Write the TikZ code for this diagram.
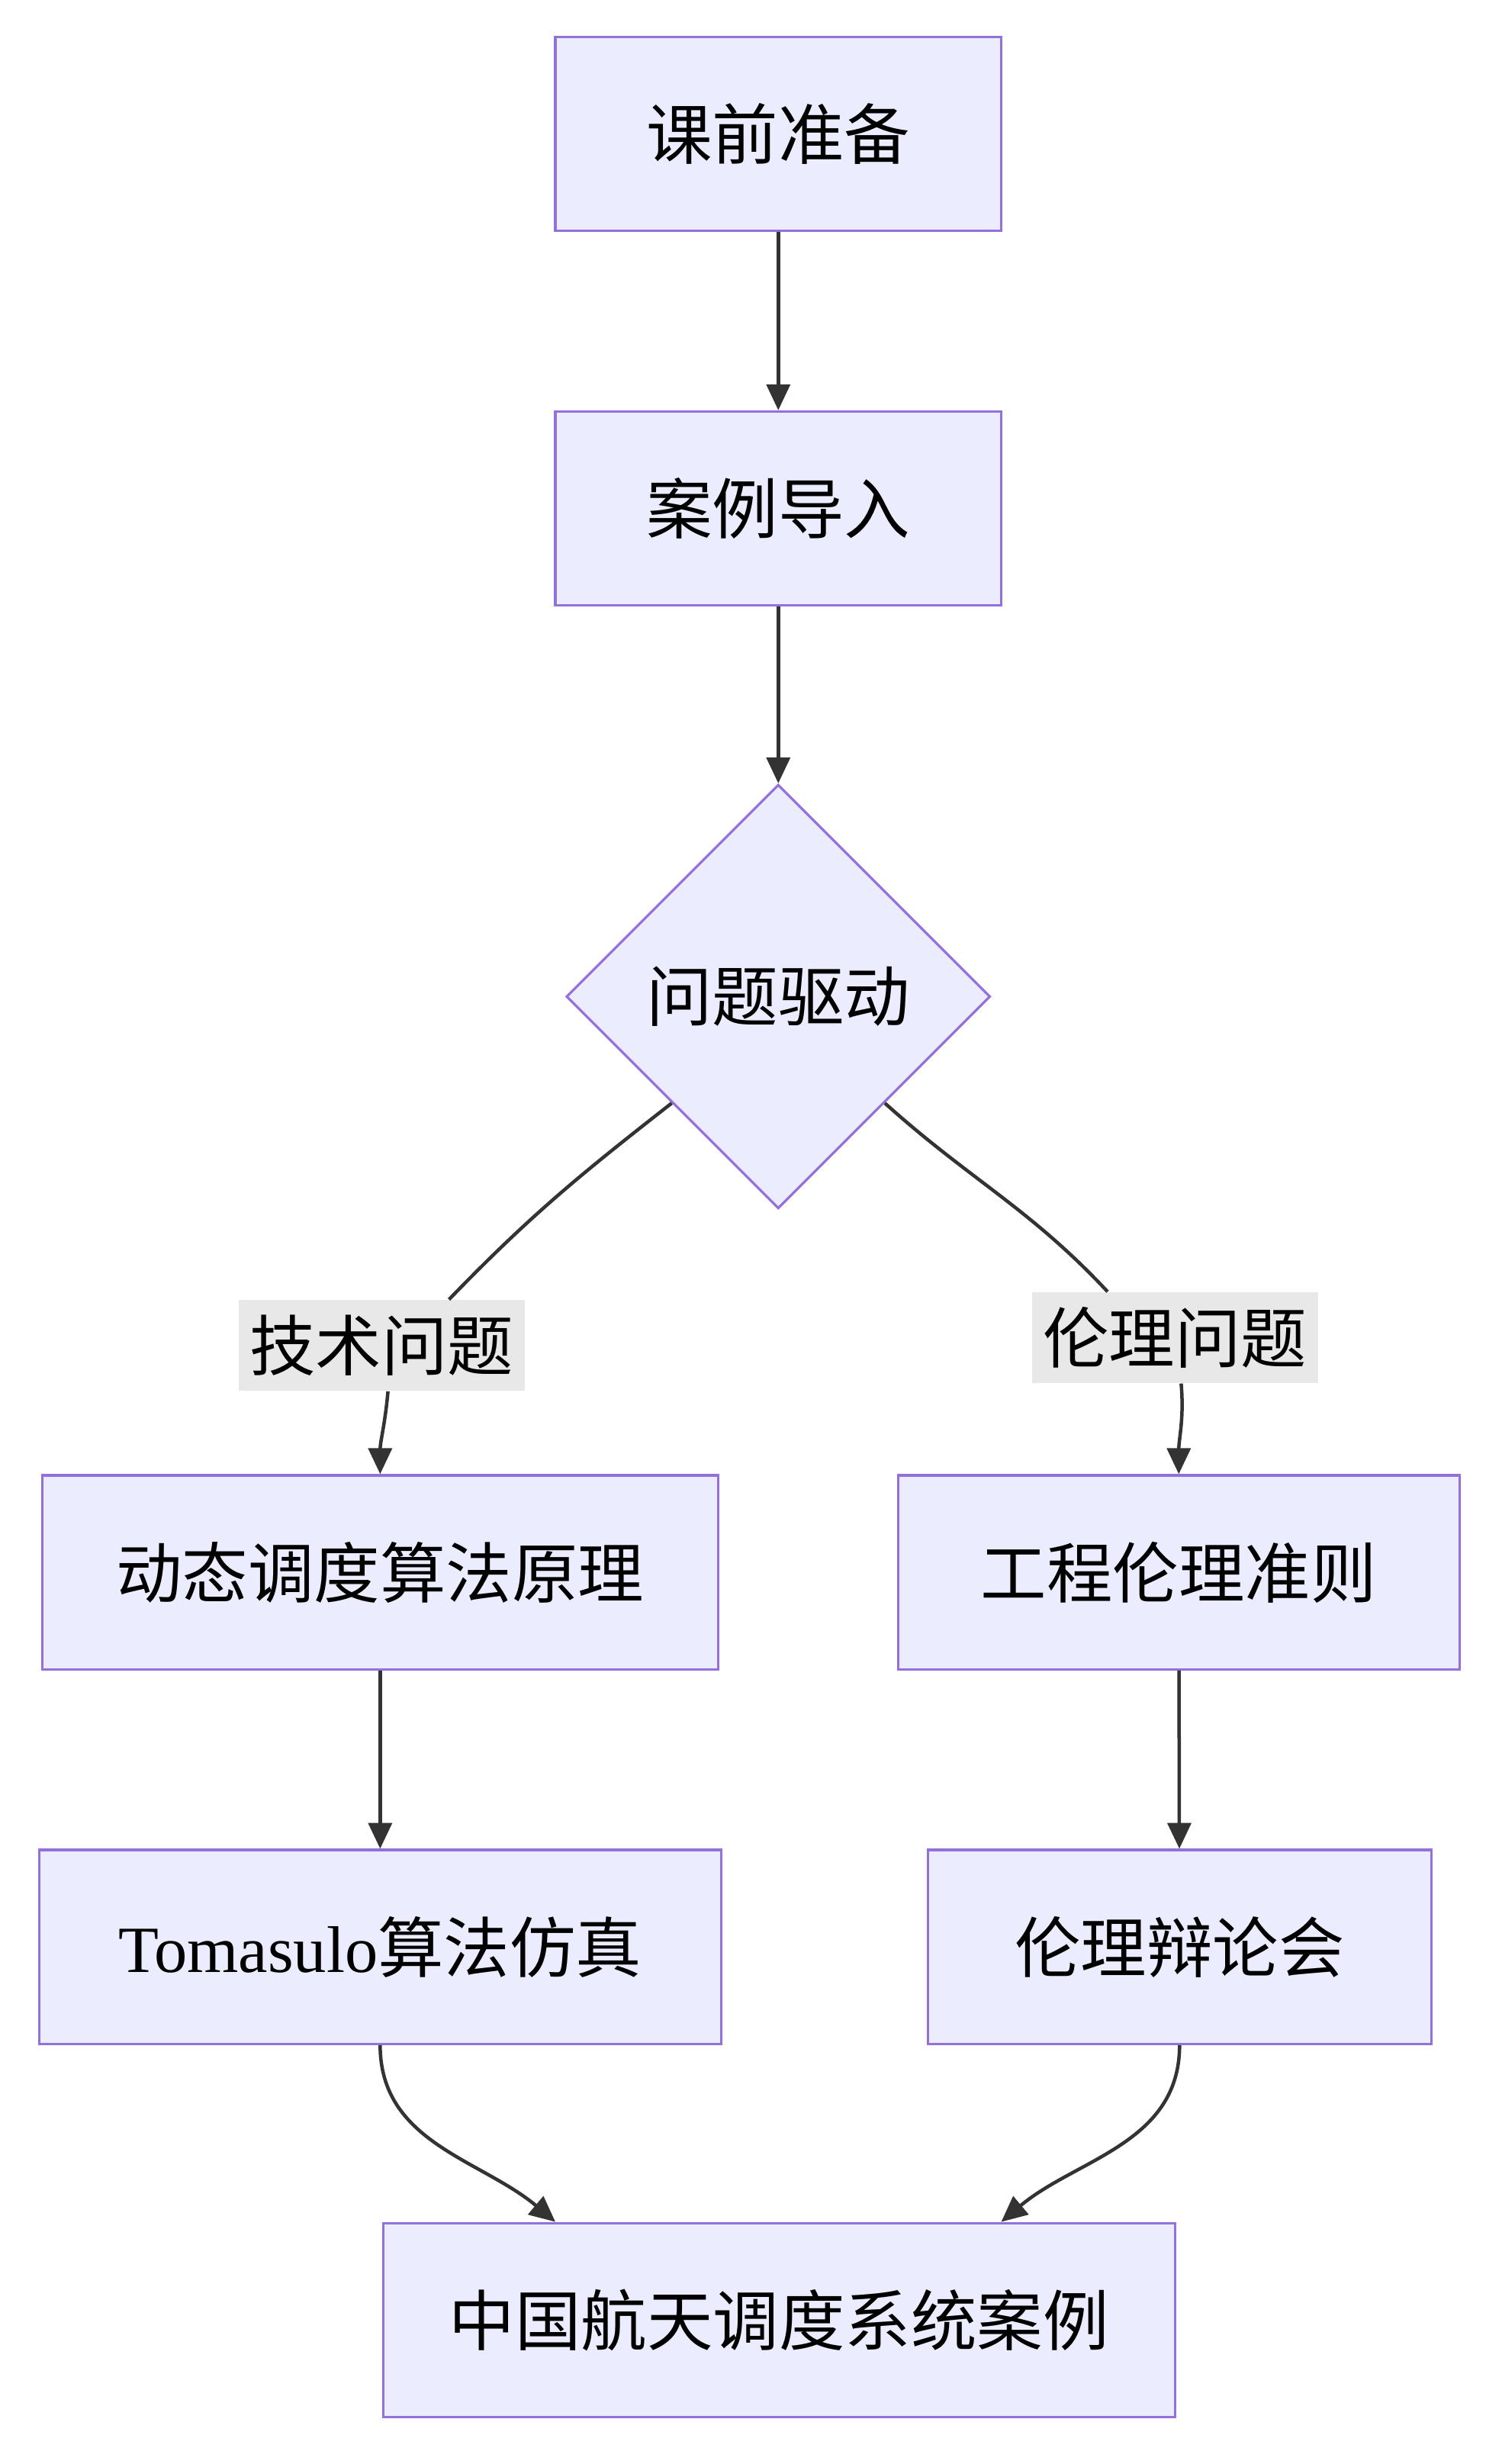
\documentclass[tikz,border=0pt]{standalone}
\usepackage{fontspec}
\setmainfont{Liberation Serif}
\newfontfamily\cjk{Noto Sans CJK SC}
\usetikzlibrary{shapes.geometric,arrows.meta}
\definecolor{boxfill}{HTML}{ECECFF}
\definecolor{boxline}{HTML}{9370DB}
\definecolor{edgeline}{HTML}{333333}
\definecolor{tagfill}{HTML}{E8E8E8}

\begin{document}
\begin{tikzpicture}[
  box/.style={draw=boxline, fill=boxfill, line width=0.9pt, minimum height=2.48cm, inner sep=0pt, font=\cjk\fontsize{24}{28}\selectfont},
  ask/.style={diamond, aspect=1, draw=boxline, fill=boxfill, line width=0.9pt, minimum size=5.42cm, inner sep=0pt, font=\cjk\fontsize{24}{28}\selectfont},
  tag/.style={fill=tagfill, minimum width=3.66cm, minimum height=1.16cm, inner sep=0pt, font=\cjk\fontsize{24}{28}\selectfont},
  flow/.style={draw=edgeline, line width=1.25pt, -{Triangle[length=0.33cm,width=0.3cm]}},
  wire/.style={draw=edgeline, line width=1.25pt}]
\useasboundingbox (0,0) rectangle (19.2,-31.5);
\node[box, minimum width=5.7cm] (prep) at (9.95,-1.71) {课前准备};
\node[box, minimum width=5.7cm] (intro) at (9.95,-6.5) {案例导入};
\node[ask] (drive) at (9.95,-12.74) {问题驱动};
\node[tag] (tech) at (4.88,-17.2) {技术问题};
\node[tag] (ethic) at (15.02,-17.1) {伦理问题};
\node[box, minimum width=8.64cm] (algo) at (4.86,-20.1) {动态调度算法原理};
\node[box, minimum width=7.18cm] (code) at (15.07,-20.1) {工程伦理准则};
\node[box, minimum width=8.72cm] (toma) at (4.86,-24.89) {{\rmfamily Tomasulo}算法仿真};
\node[box, minimum width=6.44cm] (debate) at (15.08,-24.89) {伦理辩论会};
\node[box, minimum width=10.12cm] (case) at (9.96,-29.66) {中国航天调度系统案例};

\draw[flow] (prep) -- (intro);
\draw[flow] (intro) -- (drive);
\draw[wire] (drive.south west) to[out=-142,in=46] ([xshift=0.86cm]tech.north);
\draw[flow] ([xshift=0.08cm]tech.south) to[out=-95,in=90] (algo.north);
\draw[wire] (drive.south east) to[out=-42,in=133] ([xshift=-0.86cm]ethic.north);
\draw[flow] ([xshift=0.08cm]ethic.south) to[out=-85,in=90] (code.north);
\draw[flow] (algo) -- (toma);
\draw[flow] (code) -- (debate);
\draw[flow] (toma.south) to[out=-90,in=140] ([xshift=-2.86cm]case.north);
\draw[flow] (debate.south) to[out=-90,in=40] ([xshift=2.84cm]case.north);
\end{tikzpicture}
\end{document}
